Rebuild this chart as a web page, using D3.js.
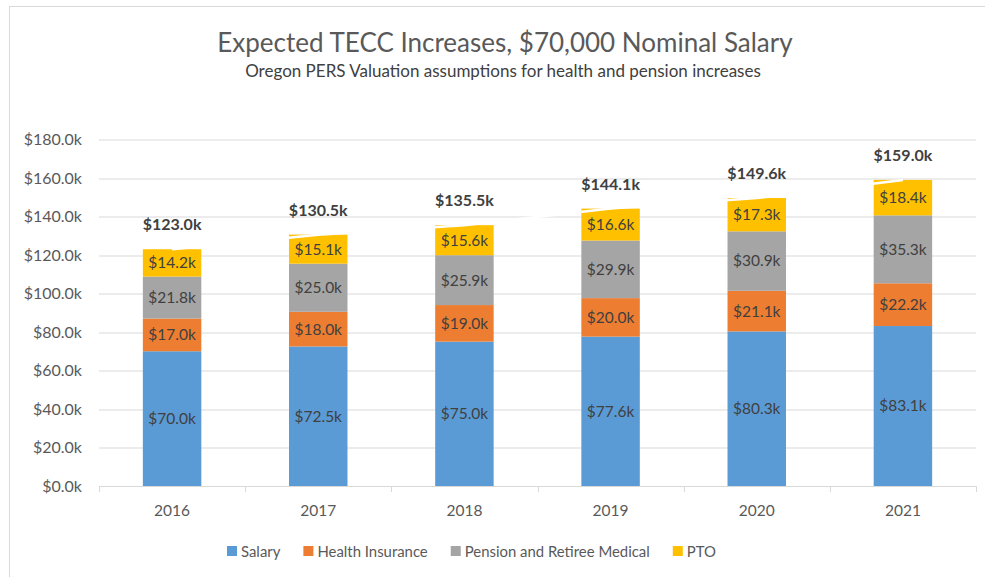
<!DOCTYPE html>
<html>
<head>
<meta charset="utf-8">
<script src="https://cdn.jsdelivr.net/npm/d3@7"></script>
<style>
  body { margin: 0; background: #fff; }
  svg { display: block; font-family: Lato, "Noto Sans", sans-serif; }
</style>
</head>
<body>
<svg></svg>
<script>
var years = ["2016", "2017", "2018", "2019", "2020", "2021"];
var seriesNames = ["Salary", "Health Insurance", "Pension and Retiree Medical", "PTO"];
var salary = [70.0, 72.5, 75.0, 77.6, 80.3, 83.1];
var health = [17.0, 18.0, 19.0, 20.0, 21.1, 22.2];
var pension = [21.8, 25.0, 25.9, 29.9, 30.9, 35.3];
var pto = [14.2, 15.1, 15.6, 16.6, 17.3, 18.4];
var totals = [123.0, 130.5, 135.5, 144.1, 149.6, 159.0];
var yTicks = [0, 20, 40, 60, 80, 100, 120, 140, 160, 180];
var colors = ["#5b9bd5", "#ed7d31", "#a5a5a5", "#ffc000"];

var viewWidth = 985, viewHeight = 577;
var margin = {top: 139.5, right: 9, bottom: 91, left: 99};
var width = viewWidth - margin.left - margin.right;
var height = viewHeight - margin.top - margin.bottom;

var svg = d3.select("svg")
    .attr("width", viewWidth)
    .attr("height", viewHeight);

// chart frame
svg.append("rect")
    .attr("x", 9.5).attr("y", 6.5)
    .attr("width", 1000).attr("height", 600)
    .attr("fill", "none")
    .attr("stroke", "#d9d9d9");

svg.append("text")
    .attr("x", 505).attr("y", 52)
    .attr("text-anchor", "middle")
    .style("font-size", "26px")
    .style("fill", "#595959")
    .text("Expected TECC Increases, $70,000 Nominal Salary");

svg.append("text")
    .attr("x", 503).attr("y", 77)
    .attr("text-anchor", "middle")
    .style("font-size", "17px")
    .style("fill", "#404040")
    .text("Oregon PERS Valuation assumptions for health and pension increases");

var g = svg.append("g")
    .attr("transform", "translate(" + margin.left + "," + margin.top + ")");

var x = d3.scaleBand()
    .domain(years)
    .range([0, width])
    .paddingInner(0.6)
    .paddingOuter(0.3);

var y = d3.scaleLinear()
    .domain([0, 180])
    .range([height, 0]);

var fmt = function(v) { return "$" + d3.format(".1f")(v) + "k"; };

// gridlines
g.append("g")
    .selectAll("line")
    .data(yTicks.slice(1))
    .join("line")
    .attr("x1", 0).attr("x2", width)
    .attr("y1", d => Math.round(y(d)) + 0.5)
    .attr("y2", d => Math.round(y(d)) + 0.5)
    .attr("stroke", "#d9d9d9");

// y labels
g.append("g")
    .selectAll("text")
    .data(yTicks)
    .join("text")
    .attr("x", -17)
    .attr("y", d => y(d))
    .attr("dy", "0.35em")
    .attr("text-anchor", "end")
    .style("font-size", "16px")
    .style("fill", "#595959")
    .text(fmt);

var table = years.map(function(yr, i) {
    return {year: yr, Salary: salary[i], "Health Insurance": health[i],
            "Pension and Retiree Medical": pension[i], PTO: pto[i]};
});
var stacked = d3.stack().keys(seriesNames)(table);

var layers = g.selectAll(".layer")
    .data(stacked)
    .join("g")
    .attr("class", "layer")
    .attr("fill", (d, i) => colors[i]);

layers.selectAll("rect")
    .data(d => d)
    .join("rect")
    .attr("x", d => x(d.data.year))
    .attr("width", x.bandwidth())
    .attr("y", d => y(d[1]))
    .attr("height", d => y(d[0]) - y(d[1]));

// hidden total line (white) as in the original
g.append("path")
    .datum(totals)
    .attr("fill", "none")
    .attr("stroke", "#fff")
    .attr("stroke-width", 2.5)
    .attr("d", d3.line()
        .x((d, i) => x(years[i]) + x.bandwidth() / 2)
        .y(d => y(d)));

// segment labels
layers.selectAll("text")
    .data(d => d)
    .join("text")
    .attr("x", d => x(d.data.year) + x.bandwidth() / 2)
    .attr("y", d => (y(d[0]) + y(d[1])) / 2)
    .attr("dy", "0.35em")
    .attr("text-anchor", "middle")
    .style("font-size", "15.5px")
    .style("fill", "#404040")
    .text(d => fmt(d[1] - d[0]));

// total labels
g.append("g")
    .selectAll("text")
    .data(totals)
    .join("text")
    .attr("x", (d, i) => x(years[i]) + x.bandwidth() / 2)
    .attr("y", d => y(d) - 19)
    .attr("text-anchor", "middle")
    .style("font-size", "16px")
    .style("font-weight", "bold")
    .style("fill", "#404040")
    .text(fmt);

// x axis
var xAxis = g.append("g").attr("transform", "translate(0," + height + ")");
xAxis.append("line")
    .attr("x1", 0).attr("x2", width)
    .attr("y1", 0.5).attr("y2", 0.5)
    .attr("stroke", "#d9d9d9");
xAxis.selectAll(".tick")
    .data(d3.range(years.length + 1))
    .join("line")
    .attr("x1", i => Math.round(i * x.step()) + 0.5)
    .attr("x2", i => Math.round(i * x.step()) + 0.5)
    .attr("y1", 0).attr("y2", 6)
    .attr("stroke", "#d9d9d9");
xAxis.selectAll("text")
    .data(years)
    .join("text")
    .attr("x", d => x(d) + x.bandwidth() / 2)
    .attr("y", 30)
    .attr("text-anchor", "middle")
    .style("font-size", "15.5px")
    .style("fill", "#595959")
    .text(d => d);

// legend
var legend = svg.append("g").attr("transform", "translate(227,557)");
var lx = 0;
seriesNames.forEach(function(name, i) {
    legend.append("rect")
        .attr("x", lx).attr("y", -11)
        .attr("width", 10).attr("height", 10)
        .attr("fill", colors[i]);
    var t = legend.append("text")
        .attr("x", lx + 14)
        .attr("y", 0)
        .style("font-size", "14.9px")
        .style("fill", "#595959")
        .text(name);
    lx += 14 + t.node().getComputedTextLength() + 23;
});
</script>
</body>
</html>
